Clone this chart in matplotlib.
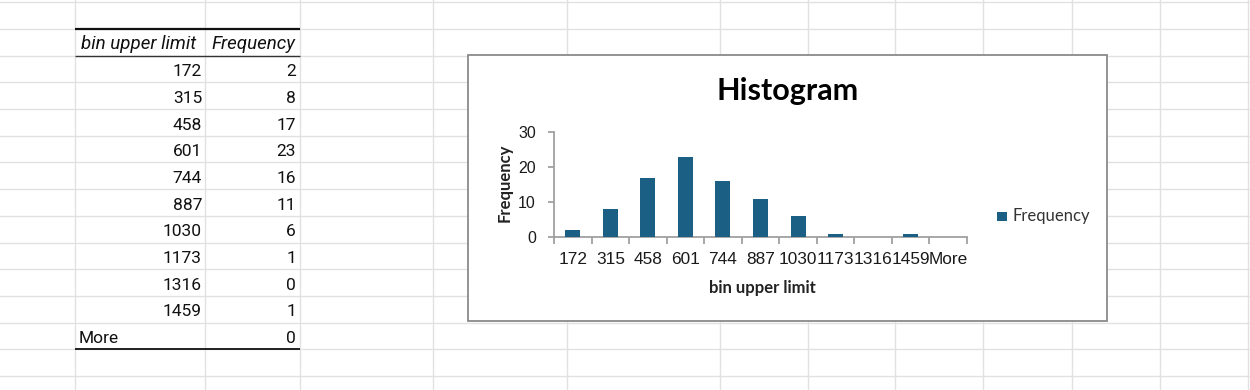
import matplotlib
matplotlib.use("Agg")
import matplotlib.pyplot as plt
from matplotlib.patches import Rectangle

# ---- data ----
bin_labels = ["172", "315", "458", "601", "744", "887", "1030", "1173", "1316", "1459", "More"]
frequency = [2, 8, 17, 23, 16, 11, 6, 1, 0, 1, 0]
table_headers = ["bin upper limit", "Frequency"]
chart_title = "Histogram"
x_title = "bin upper limit"
y_title = "Frequency"
y_ticks = [0, 10, 20, 30]

W, H = 1250, 390
fig = plt.figure(figsize=(W / 100, H / 100), dpi=100)
fig.patch.set_facecolor("white")

bg = fig.add_axes([0, 0, 1, 1])
bg.set_xlim(0, W)
bg.set_ylim(H, 0)
bg.axis("off")

grid_c = "#E1E1E1"
# sheet gridlines
col_x = [75, 205, 300, 433, 567, 720, 808, 895, 983, 1072, 1160, 1248]
row_y0, row_h = 29, 26.69
row_y = [2] + [row_y0 + row_h * k for k in range(14)]
for x in col_x:
    bg.plot([x, x], [0, H], color=grid_c, lw=1.0, zorder=1)
for y in row_y:
    bg.plot([0, W], [y, y], color=grid_c, lw=1.0, zorder=1)

# ---- table ----
tfont = "Roboto"
fs_t = 12.5
tx0, tx1, tx2 = 75, 205, 300
bg.text(tx0 + 6, row_y0 + 20, table_headers[0], fontsize=13.5, family=tfont,
        style="italic", ha="left", va="baseline", color="#111111", zorder=3)
bg.text(tx2 - 5, row_y0 + 20, table_headers[1], fontsize=13.5, family=tfont,
        style="italic", ha="right", va="baseline", color="#111111", zorder=3)
for i, (lab, f) in enumerate(zip(bin_labels, frequency)):
    yb = row_y0 + row_h * (i + 1) + 20.5
    if lab.isdigit():
        bg.text(tx1 - 3, yb, lab, fontsize=fs_t, family=tfont, ha="right",
                va="baseline", color="#111111", zorder=3)
    else:
        bg.text(tx0 + 4, yb, lab, fontsize=fs_t, family=tfont, ha="left",
                va="baseline", color="#111111", zorder=3)
    bg.text(tx2 - 4, yb, str(f), fontsize=fs_t, family=tfont, ha="right",
            va="baseline", color="#111111", zorder=3)
n_rows = len(bin_labels) + 1
bg.plot([tx0, tx2], [row_y0, row_y0], color="#111111", lw=1.6, zorder=4,
        solid_capstyle="butt")
bg.plot([tx0, tx2], [row_y0 + row_h, row_y0 + row_h], color="#333333", lw=1.0,
        zorder=4, solid_capstyle="butt")
bg.plot([tx0, tx2], [row_y0 + row_h * n_rows, row_y0 + row_h * n_rows],
        color="#111111", lw=1.3, zorder=4, solid_capstyle="butt")

# ---- chart frame ----
cx0, cy0, cx1, cy1 = 468, 55, 1107, 321
bg.add_patch(Rectangle((cx0, cy0), cx1 - cx0, cy1 - cy0, facecolor="white",
                       edgecolor="#8A8A8A", lw=1.3, zorder=5))

cfont = "Lato"
bg.text(788, 100, chart_title, fontsize=22, family=cfont, weight="bold",
        ha="center", va="baseline", color="black", zorder=6)
bg.text(762, 288, x_title, fontsize=12, family=cfont, weight="bold",
        ha="center", va="center", color="#222222", zorder=6)
bg.text(505, 183, y_title, fontsize=12, family=cfont, weight="bold",
        ha="center", va="center", rotation=90, color="#222222", zorder=6)

bar_c = "#1C5F84"
# legend
bg.add_patch(Rectangle((997, 211.5), 9.5, 9.5, facecolor=bar_c, edgecolor="none",
                       zorder=6))
bg.text(1012, 216.5, y_title, fontsize=12, family=cfont, ha="left",
        va="center", color="#333333", zorder=6)

# ---- chart axes ----
ax_l, ax_r, ax_b, ax_t = 554, 967, 237, 132
ax = fig.add_axes([ax_l / W, (H - ax_b) / H, (ax_r - ax_l) / W, (ax_b - ax_t) / H])
ax.set_zorder(10)
ax.patch.set_alpha(0)
pos = list(range(len(bin_labels)))
ax.bar(pos, frequency, width=0.4, color=bar_c, edgecolor="none", zorder=3)
ax.set_xlim(-0.5, len(bin_labels) - 0.5)
ax.set_ylim(0, 30)
ax.set_yticks(y_ticks)
ax.set_xticks(pos)
ax.set_xticklabels(bin_labels)
ax.set_xticks([p - 0.5 for p in pos] + [len(pos) - 0.5], minor=True)
for s in ["top", "right"]:
    ax.spines[s].set_visible(False)
axis_c = "#A0A0A0"
for s in ["left", "bottom"]:
    ax.spines[s].set_color(axis_c)
    ax.spines[s].set_linewidth(1.3)
ax.tick_params(axis="x", which="major", length=0, pad=11, labelsize=12.4,
               labelcolor="#1A1A1A")
ax.tick_params(axis="x", which="minor", length=5, width=1.3, color=axis_c,
               direction="out")
ax.tick_params(axis="y", which="major", length=4, width=1.3, color=axis_c,
               direction="out", pad=9, labelsize=11.5, labelcolor="#1A1A1A")
for lab in ax.get_xticklabels() + ax.get_yticklabels():
    lab.set_family("Liberation Sans")

fig.savefig("out.png", dpi=100, facecolor="white")
